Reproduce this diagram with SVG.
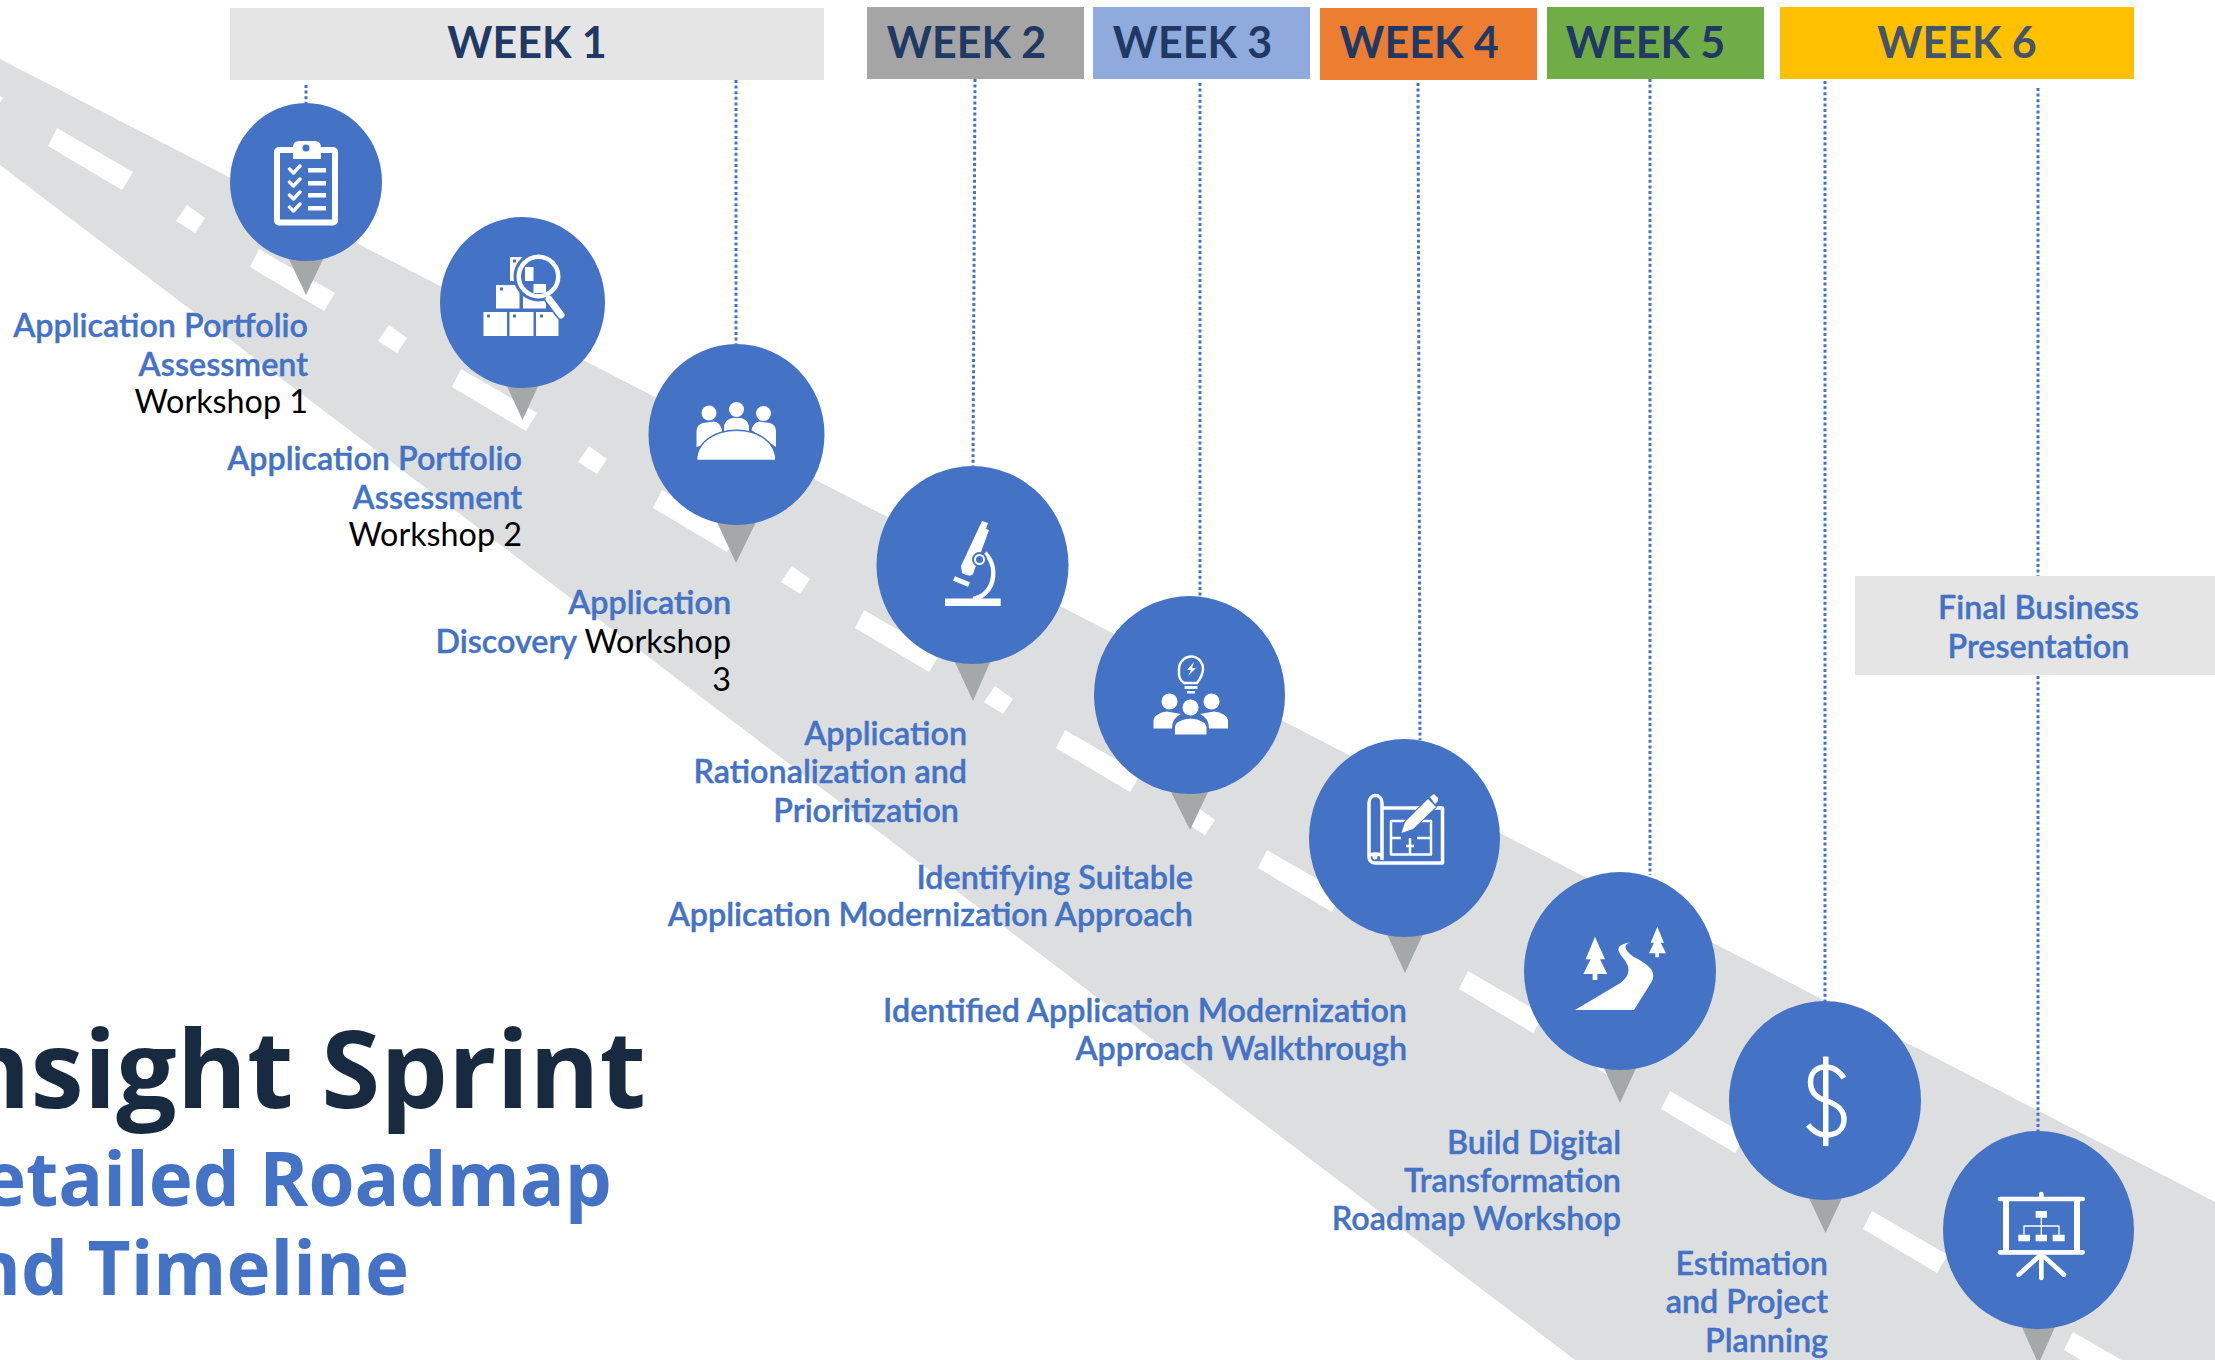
<svg xmlns="http://www.w3.org/2000/svg" width="2215" height="1360" viewBox="0 0 2215 1360">
<style>
text{font-family:Lato,"Liberation Sans",sans-serif}
.wk{font-size:43px;font-weight:700;fill:#1F3864;text-anchor:middle}
.lb{font-size:32.300px;font-weight:600;fill:#4472C4;stroke:#4472C4;stroke-width:.4px;text-anchor:end;transform:translate(1px,2px)}
.bk{font-weight:400;fill:#000;stroke:none}
.c{fill:#4472C4}
.pin{fill:#A5A8A8}
.dot{stroke:#4472C4;stroke-width:3;stroke-dasharray:3 2.600;fill:none}
.w{fill:#fff}
.b{fill:#4472C4}
.ws{fill:none;stroke:#fff;stroke-linecap:round;stroke-linejoin:round}
.ttl{font-family:"Open Sans","Liberation Sans",sans-serif;font-weight:700;text-anchor:end}
</style>
<defs>
<path id="dl" d="M0 0L76 44L65 62L-9 18Z" fill="#fff"/>
<path id="ds" d="M0 0L18 13L8 28L-11 16Z" fill="#fff"/>
</defs>
<rect width="2215" height="1360" fill="#fff"/>
<g id="road">
<path d="M0 59L2215 1202V1360H1575L0 165Z" fill="#DCDEE0"/>
<use href="#ds" x="-15" y="85"/>
<use href="#dl" x="57" y="128"/><use href="#ds" x="187" y="205"/>
<use href="#dl" x="259" y="249"/><use href="#ds" x="389" y="325"/>
<use href="#dl" x="461" y="369"/><use href="#ds" x="589" y="446"/>
<use href="#dl" x="662" y="490"/><use href="#ds" x="792" y="566"/>
<use href="#dl" x="864" y="610"/><use href="#ds" x="995" y="686"/>
<use href="#dl" x="1065" y="730"/><use href="#ds" x="1197" y="807"/>
<use href="#dl" x="1267" y="850"/>
<use href="#dl" x="1468" y="971"/><use href="#ds" x="1601" y="1048"/>
<use href="#dl" x="1670" y="1091"/>
<use href="#dl" x="1872" y="1211"/>
<use href="#dl" x="2073" y="1332"/>
</g>
<g id="headers">
<g id="week1"><rect x="230" y="8" width="594" height="72" fill="#E5E5E5"/><text class="wk" x="527" y="58">WEEK 1</text></g>
<g id="week2"><rect x="867" y="7" width="217" height="72" fill="#A5A5A5"/><text class="wk" x="966.500" y="58">WEEK 2</text></g>
<g id="week3"><rect x="1093" y="7" width="217" height="72" fill="#8FAADC"/><text class="wk" x="1192.500" y="58">WEEK 3</text></g>
<g id="week4"><rect x="1320" y="8" width="217" height="72" fill="#ED7D31"/><text class="wk" x="1419" y="58">WEEK 4</text></g>
<g id="week5"><rect x="1547" y="7" width="217" height="72" fill="#70AD47"/><text class="wk" x="1645.500" y="58">WEEK 5</text></g>
<g id="week6"><rect x="1780" y="7" width="354" height="72" fill="#FFC000"/><text class="wk" x="1957" y="58" style="fill:#44546A">WEEK 6</text></g>
</g>
<g id="connectors">
<path class="dot" d="M306 85V103"/>
<path class="dot" d="M736 80V344"/>
<path class="dot" d="M975 79L973 466"/>
<path class="dot" d="M1200 83V596"/>
<path class="dot" d="M1418 83L1420 740"/>
<path class="dot" d="M1650 79V875"/>
<path class="dot" d="M1825 81V1001"/>
<path class="dot" d="M2038 88V1131"/>
</g>
<g id="title">
<text class="ttl" x="646" y="1108" font-size="107" fill="#182A40">Insight Sprint</text>
<text class="ttl" x="612" y="1206" font-size="74.500" fill="#4472C4">Detailed Roadmap</text>
<text class="ttl" x="409" y="1295" font-size="74.500" fill="#4472C4">and Timeline</text>
</g>
<g id="final">
<rect x="1855" y="576" width="360" height="99" fill="#E5E5E5"/>
<text class="lb" x="2037.500" y="617" style="text-anchor:middle">Final Business</text>
<text class="lb" x="2037.500" y="656" style="text-anchor:middle">Presentation</text>
</g>
<g id="node1">
<path class="pin" d="M287 255H325L306 295Z"/><ellipse class="c" cx="306" cy="182" rx="76" ry="79"/>
<rect x="277" y="150" width="58" height="72.500" rx="2" fill="none" stroke="#fff" stroke-width="6"/>
<path class="w" d="M293 159V148Q293 141 299 141H315Q321 141 321 148V159Z"/><circle class="b" cx="306" cy="148" r="3.500"/>
<path class="ws" stroke-width="3.500" d="M289.500 169L293.500 173L300 166M289.500 182L293.500 186L300 179M289.500 195L293.500 199L300 192M289.500 207L293.500 211L300 204"/>
<path class="w" d="M308 168h18v4.500h-18zM308 181h18v4.500h-18zM308 193h18v4.500h-18zM308 206h18v4.500h-18z"/>
<text class="lb" x="307" y="335">Application Portfolio</text>
<text class="lb" x="307" y="374">Assessment</text>
<text class="lb bk" x="307" y="411">Workshop 1</text>
</g>
<g id="node2">
<path class="pin" d="M505 382H540L522.500 420Z"/><ellipse class="c" cx="522.500" cy="302.500" rx="82.500" ry="85.500"/>
<path class="w" d="M483.500 312H507V336H483.500zM509.500 312H533.500V336H509.500zM536 312H558.500V336H536zM496 285H519.500V308.500H496zM523 284H546V308.500H523zM510 257H533.500V281H510z"/>
<path class="b" d="M487 314.500h3v3h-3zM513 314.500h3v3h-3zM540 314.500h3v3h-3zM500 287.500h3v3h-3zM513 259.500h3v3h-3z"/>
<path class="ws" stroke-width="10" d="M549 299L561 315" style="stroke:#4472C4"/>
<circle class="b" cx="538.500" cy="276.500" r="25"/>
<path class="ws" stroke-width="7" d="M549 299L561 315"/>
<circle class="w" cx="538.500" cy="276.500" r="22"/><circle class="b" cx="538.500" cy="276.500" r="17.500"/>
<path class="w" d="M525 267H533.500V281H525zM533.500 284H546V293H533.500z"/>
<text class="lb" x="521" y="468">Application Portfolio</text>
<text class="lb" x="521" y="507">Assessment</text>
<text class="lb bk" x="521" y="544">Workshop 2</text>
</g>
<g id="node3">
<path class="pin" d="M716 520H757L736 563Z"/><ellipse class="c" cx="736.500" cy="434.500" rx="88" ry="90.500"/>
<circle class="w" cx="709" cy="413" r="7.500"/><circle class="w" cx="736.500" cy="409.500" r="7.500"/><circle class="w" cx="763.500" cy="413.500" r="7.500"/>
<path class="w" d="M696.500 447V431Q696.500 425 703 423L714 421.500Q720 422 722 430L722 440ZM724 432V426Q725 420 732 418H741Q748 420 749 426V432ZM751.500 430Q753 423 759 421.500L770 423Q776 425 776 431V447Z"/>
<path class="w" d="M697.500 459.500C697.500 442 716 431 736.500 431S775 442 775 459.500Z" stroke="#4472C4" stroke-width="3" paint-order="stroke"/>
<path class="w" d="M697.500 459.500C697.500 445 716 433 736.500 433S775 445 775 459.500Z"/>
<text class="lb" x="730" y="612">Application</text>
<text class="lb" x="730" y="651">Discovery <tspan class="bk">Workshop</tspan></text>
<text class="lb bk" x="730" y="689">3</text>
</g>
<g id="node4">
<path class="pin" d="M953 658H992L973 701Z"/><ellipse class="c" cx="972.500" cy="565" rx="96" ry="99"/>
<path class="w" d="M945 598.500H1000.700V606H945z"/>
<path class="w" d="M982 521L988 523L986 529L989 530L973 574C970 577 966 575 962 573L961 566Z"/>
<path class="ws" stroke-width="4.500" d="M985 553C994 562 995 574 991 585C988 592 981 598 973 599" style="stroke-linecap:butt"/>
<path class="ws" stroke-width="5" d="M954 578.500L969 584.500" style="stroke-linecap:butt"/>
<circle class="w" cx="979.500" cy="559.500" r="6.500" stroke="#4472C4" stroke-width="2"/><circle class="b" cx="979.500" cy="559.500" r="3.500"/>
<text class="lb" x="966" y="743">Application</text>
<text class="lb" x="966" y="781">Rationalization and</text>
<text class="lb" x="958" y="820">Prioritization</text>
</g>
<g id="node5">
<path class="pin" d="M1170 790H1209L1190 830Z"/><ellipse class="c" cx="1189.500" cy="695" rx="95.500" ry="99"/>
<path class="ws" stroke-width="2.500" d="M1184 683C1178 679 1179 674 1179 669C1179 662 1185 656.500 1191 656.500C1198 656.500 1203 662 1203 669C1203 675 1200 679 1197 683Z"/>
<path class="w" d="M1194 662L1187 670H1191L1188 676L1196 668H1192Z"/>
<path class="w" d="M1184.500 686h13v3h-13zM1187 691h8v2.500h-8z"/>
<circle class="w" cx="1169.500" cy="701.500" r="8"/><circle class="w" cx="1211.500" cy="701.500" r="8"/>
<path class="w" d="M1153.500 728.500V720Q1155 713 1167 711.500L1181 714Q1172 718 1172 728.500ZM1228 728.500V720Q1226 713 1214 711.500L1200 714Q1209 718 1209 728.500Z"/>
<circle class="w" cx="1190.500" cy="707.500" r="8"/>
<path class="w" d="M1175 734.500V727Q1176 720 1190.500 718.500Q1205 720 1206.500 727V734.500Z"/>
<text class="lb" x="1192" y="887">Identifying Suitable</text>
<text class="lb" x="1192" y="924">Application Modernization Approach</text>
</g>
<g id="node6">
<path class="pin" d="M1386 932H1424L1405 973Z"/><ellipse class="c" cx="1404.500" cy="838" rx="95.500" ry="99"/>
<path class="ws" stroke-width="3.500" d="M1382 860V803C1382 793 1369 793 1369 803V857C1369 860 1371 863 1375 863H1442.500V808H1382M1369 857C1369 853 1382 853 1382 857" style="stroke-linecap:butt"/>
<circle class="w" cx="1375" cy="857" r="2.500"/>
<path class="ws" stroke-width="2.500" d="M1391 821H1431V854.500H1391ZM1410 821V830M1410 838V854.500M1391 838H1401M1417 838H1431M1406 846H1414" style="stroke-linecap:butt"/>
<path class="w" d="M1401.500 833L1405 822L1428 799L1436 807L1413 829Z" stroke="#4472C4" stroke-width="2" paint-order="stroke"/>
<path class="w" d="M1430 797L1434 794L1438 798L1438 801L1435 804Z"/>
<text class="lb" x="1406" y="1020">Identified Application Modernization</text>
<text class="lb" x="1406" y="1058">Approach Walkthrough</text>
</g>
<g id="node7">
<path class="pin" d="M1603 1066H1637L1620 1103Z"/><ellipse class="c" cx="1620" cy="971" rx="96" ry="99"/>
<g transform="translate(1520 870) scale(.3333)" class="w">
<path d="M165 420L300 340C335 315 330 290 310 265C290 240 285 225 333 217C310 222 310 240 340 260C390 285 410 305 395 335L342 420Z"/>
<path d="M225 200L255 268H240L262 312H232V330H218V312H190L212 268H197Z"/>
<path d="M412 170L432 218H422L438 250H417V262H406V250H387L402 218H392Z"/>
</g>
<text class="lb" x="1620" y="1152">Build Digital</text>
<text class="lb" x="1620" y="1190">Transformation</text>
<text class="lb" x="1620" y="1228">Roadmap Workshop</text>
</g>
<g id="node8">
<path class="pin" d="M1808 1196H1843L1825.500 1233Z"/><ellipse class="c" cx="1825" cy="1100.500" rx="96" ry="99.500"/>
<path class="w" d="M1823 1056.500h5.500V1146H1823z"/>
<path class="ws" stroke-width="5.500" style="stroke-linecap:butt" d="M1844 1078C1838 1069 1832 1067 1826 1067C1815 1067 1810.500 1074 1810.500 1082C1810.500 1094 1818 1098 1827 1101C1838 1105 1844 1110 1844 1119C1844 1130 1836 1135 1826 1135C1819 1135 1813 1131 1808 1125"/>
<text class="lb" x="1827" y="1273">Estimation</text>
<text class="lb" x="1827" y="1311">and Project</text>
<text class="lb" x="1827" y="1350">Planning</text>
</g>
<g id="node9">
<path class="pin" d="M2021 1325H2056L2038.500 1364Z"/><ellipse class="c" cx="2038.500" cy="1230" rx="95.500" ry="99"/>
<g transform="translate(1950 1120) scale(.3333)">
<path class="ws" stroke-width="14" d="M150 237H398M150 397H398M274 222V237M274 405V474M264 412L206 464M284 412L342 464"/>
<path class="ws" stroke-width="18" style="stroke-linecap:butt" d="M168 237V397M381 237V397"/>
<path class="w" d="M257 273H291V293H257zM205 344H240V364H205zM257 344H291V364H257zM308 344H344V364H308z"/>
<path class="ws" stroke-width="4" style="stroke-linecap:butt" d="M274 293V344M222 344V318H327V344"/>
</g>
</g>
</svg>
